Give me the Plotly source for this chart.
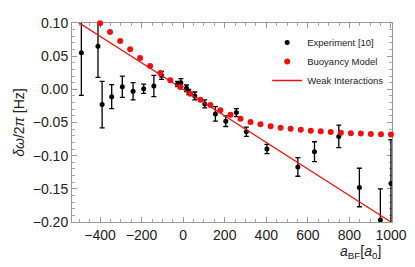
import plotly.graph_objects as go

# Experimental data
exp_x = [-490, -410, -390, -344, -293, -241, -190, -141, -104, -27, -11, 16, 27, 56, 104, 155, 205, 256, 304, 403, 552, 632, 749, 848, 949, 1000]
exp_y = [0.055, 0.065, -0.023, -0.011, 0.004, -0.003, 0.001, 0.005, 0.021, 0.008, 0.010, 0.0015, -0.004, -0.010, -0.022, -0.037, -0.048, -0.035, -0.064, -0.090, -0.117, -0.094, -0.071, -0.148, -0.197, -0.142]
exp_err = [0.064, 0.047, 0.035, 0.018, 0.016, 0.013, 0.007, 0.016, 0.006, 0.004, 0.006, 0.005, 0.004, 0.006, 0.006, 0.011, 0.008, 0.006, 0.007, 0.007, 0.014, 0.015, 0.017, 0.029, 0.047, 0.066]

# Buoyancy model
buoy_x = [-400, -352, -303, -255, -207, -159, -110, -62, -14, 34, 83, 131, 179, 228, 276,
          324, 372, 421, 469, 517, 566, 614, 662, 710, 759, 807, 855, 903, 952, 1000]
buoy_y = [0.0998, 0.0865, 0.0729, 0.0603, 0.0472, 0.0351, 0.0246, 0.0136, 0.0035, -0.0065,
          -0.0156, -0.0237, -0.0317, -0.0382, -0.0442, -0.0493, -0.0528, -0.0558, -0.0578, -0.0596,
          -0.0611, -0.0623, -0.0633, -0.0644, -0.0653, -0.0661, -0.0667, -0.0673, -0.0677, -0.0682]

# Weak interactions line
weak_x = [-540, 1010]
weak_y = [0.108, -0.202]

x_ticks = [-400, -200, 0, 200, 400, 600, 800, 1000]
y_ticks = [0.10, 0.05, 0.00, -0.05, -0.10, -0.15, -0.20]
y_tick_text = ["0.10", "0.05", "0.00", "\u22120.05", "\u22120.10", "\u22120.15", "\u22120.20"]
x_tick_text = ["\u2212400", "\u2212200", "0", "200", "400", "600", "800", "1000"]

FONT = "Liberation Sans, Arial"

fig = go.Figure()
fig.add_trace(go.Scatter(
    x=exp_x, y=exp_y, mode="markers", name="Experiment [10]",
    marker=dict(color="black", size=5),
    error_y=dict(type="data", array=exp_err, color="black", thickness=1.3, width=2.5),
))
fig.add_trace(go.Scatter(
    x=buoy_x, y=buoy_y, mode="markers", name="Buoyancy Model",
    marker=dict(color="#ee1111", size=6), cliponaxis=False,
))
fig.add_trace(go.Scatter(
    x=weak_x, y=weak_y, mode="lines", name="Weak Interactions",
    line=dict(color="#ee1111", width=1.3),
))

axis_common = dict(
    showline=True, linecolor="#999999", linewidth=1, mirror="ticks",
    ticks="inside", ticklen=5, tickcolor="#999999", tickwidth=1,
    showgrid=False, zeroline=False, automargin=False, layer="below traces",
    tickfont=dict(family=FONT, size=14, color="#222222"),
)

# page body has an 8px margin; figure sized/margined to compensate
fig.update_layout(
    width=407, height=259,
    margin=dict(l=64, r=23, t=15, b=45),
    paper_bgcolor="white", plot_bgcolor="white",
    showlegend=True,
    legend=dict(x=0.61, y=0.975, xanchor="left", yanchor="top",
                bgcolor="rgba(0,0,0,0)", font=dict(family=FONT, size=9.5, color="#222222")),
    xaxis=dict(range=[-535, 1005], tickvals=x_ticks, ticktext=x_tick_text,
               minor=dict(ticks="inside", ticklen=3, tickcolor="#aaaaaa", dtick=50, tick0=0, showgrid=False),
               **axis_common),
    yaxis=dict(range=[-0.2, 0.1], tickvals=y_ticks, ticktext=y_tick_text,
               minor=dict(ticks="inside", ticklen=3, tickcolor="#aaaaaa", dtick=0.01, tick0=0, showgrid=False),
               title=dict(text="<i>\u03b4\u03c9</i>/2<i>\u03c0</i> [Hz]", font=dict(family=FONT, size=14, color="#222222"), standoff=4),
               **axis_common),
    annotations=[dict(
        text="<i>a</i><sub>BF</sub>[<i>a</i><sub>0</sub>]", xref="paper", yref="paper",
        x=0.9, y=-0.15, xanchor="center", yanchor="middle", showarrow=False,
        font=dict(family=FONT, size=14, color="#222222"),
    )],
)

fig.write_html("out.html")
